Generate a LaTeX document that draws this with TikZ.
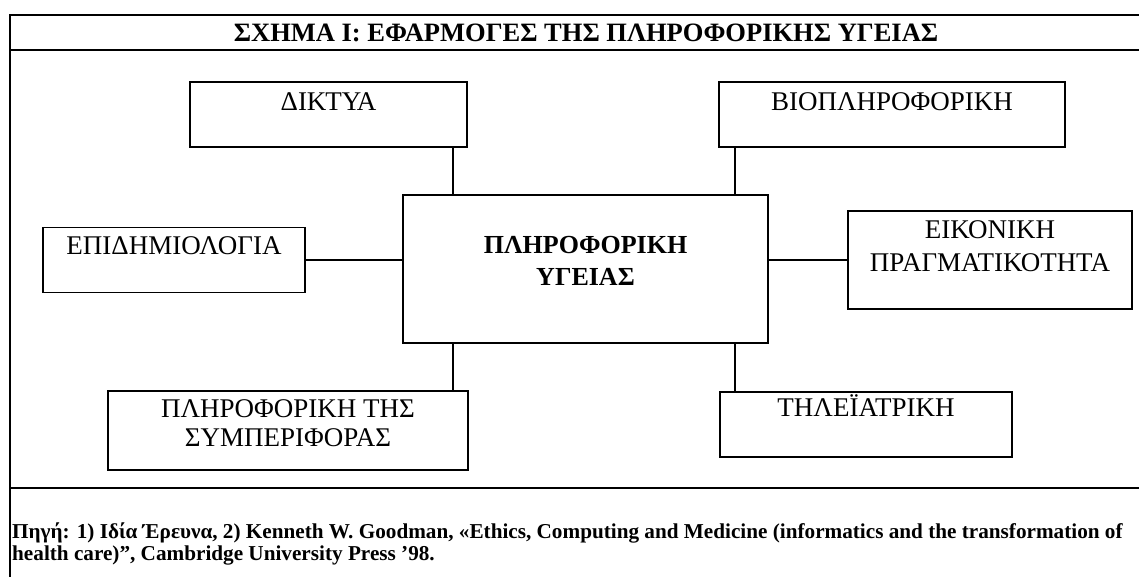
\documentclass[tikz,border=0pt]{standalone}
\usepackage{fontspec}
\setmainfont{Liberation Serif}
\usetikzlibrary{positioning}

\begin{document}
\begin{tikzpicture}[x=1pt,y=-1pt,
  rule/.style={line width=1.8pt},
  box/.style={draw,line width=1.8pt,inner sep=0pt},
  link/.style={line width=1.8pt},
  lbl/.style={font=\fontsize{27}{31}\selectfont,align=center,inner sep=0pt},
  hdr/.style={font=\fontsize{26.5}{28}\selectfont\bfseries,inner sep=0pt}]
\useasboundingbox (0,0) rectangle (1139,577);
\clip (0,0) rectangle (1139,577);
% frame
\draw[rule] (1139,15) -- (10,15) -- (10,577);
\draw[rule] (10,50) -- (1139,50);
\draw[rule] (10,488) -- (1139,488);
\node[hdr,anchor=base] (title) at (586,42) {ΣΧΗΜΑ I: ΕΦΑΡΜΟΓΕΣ ΤΗΣ ΠΛΗΡΟΦΟΡΙΚΗΣ ΥΓΕΙΑΣ};
% boxes
\node[box,minimum width=365,minimum height=148] (hi) at (585.5,269) {};
\node[box,minimum width=277,minimum height=65] (net) at (328.5,114.5) {};
\node[box,minimum width=346,minimum height=65] (bio) at (892,114.5) {};
\node[box,minimum width=262,minimum height=65] (epi) at (174,260) {};
\node[box,minimum width=284,minimum height=98] (vr) at (990,260) {};
\node[box,minimum width=292,minimum height=65] (tele) at (866,424.5) {};
\node[box,minimum width=360,minimum height=79] (beh) at (288,430.5) {};
% labels
\node[lbl,font=\fontsize{26}{32}\selectfont\bfseries,below=42pt of hi.north] (hit) {ΠΛΗΡΟΦΟΡΙΚΗ\\ΥΓΕΙΑΣ};
\node[lbl,below=11pt of net.north] (nett) {ΔΙΚΤΥΑ};
\node[lbl,below=11pt of bio.north] (biot) {ΒΙΟΠΛΗΡΟΦΟΡΙΚΗ};
\node[lbl,below=10pt of epi.north] (epit) {ΕΠΙΔΗΜΙΟΛΟΓΙΑ};
\node[lbl,font=\fontsize{27}{33}\selectfont,below=10pt of vr.north] (vrt) {ΕΙΚΟΝΙΚΗ\\ΠΡΑΓΜΑΤΙΚΟΤΗΤΑ};
\node[lbl,below=3pt of tele.north] (telet) {ΤΗΛΕΪΑΤΡΙΚΗ};
\node[lbl,font=\fontsize{27}{29}\selectfont,below=9pt of beh.north] (beht) {ΠΛΗΡΟΦΟΡΙΚΗ ΤΗΣ\\ΣΥΜΠΕΡΙΦΟΡΑΣ};
% links
\draw[link] ([xshift=-15pt]net.south east) -- ([xshift=-15pt]net.south east |- hi.north);
\draw[link] ([xshift=17pt]bio.south west) -- ([xshift=17pt]bio.south west |- hi.north);
\draw[link] (epi.east) -- (epi.east -| hi.west);
\draw[link] (vr.west) -- (vr.west -| hi.east);
\draw[link] ([xshift=16pt]tele.north west) -- ([xshift=16pt]tele.north west |- hi.south);
\draw[link] ([xshift=-16pt]beh.north east) -- ([xshift=-16pt]beh.north east |- hi.south);
% source
\node[anchor=north west,align=left,inner sep=0pt,font=\fontsize{21.2}{21.5}\selectfont\bfseries] (src) at (12,523)
  {Πηγή: 1) Ιδία Έρευνα, 2) Kenneth W. Goodman, «Ethics, Computing and Medicine (informatics and the transformation of\\
   health care)”, Cambridge University Press ’98.};
\end{tikzpicture}
\end{document}
